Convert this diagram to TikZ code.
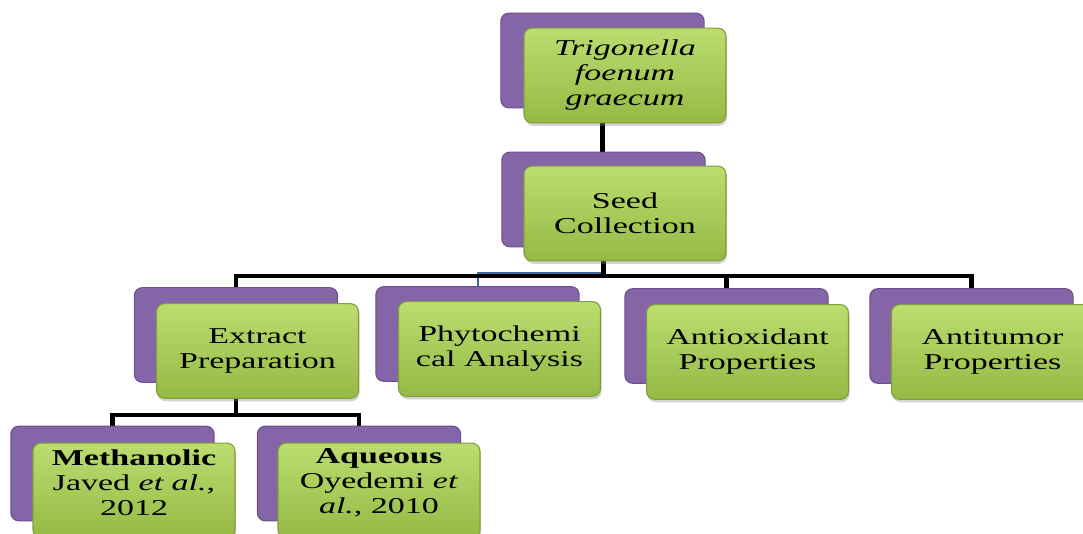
\documentclass[tikz,border=0pt]{standalone}
\usepackage{fontspec}
\setmainfont{Liberation Serif}[FakeStretch=1.5]
\usetikzlibrary{shadows,backgrounds}
\definecolor{pfill}{HTML}{8465A8}
\definecolor{pdraw}{HTML}{6B4F8E}
\definecolor{gtop}{HTML}{BCDC70}
\definecolor{gmid}{HTML}{A4C853}
\definecolor{gbot}{HTML}{94BA44}
\definecolor{gdraw}{HTML}{7F9F3C}
\definecolor{blink}{HTML}{3F6A9E}
\begin{document}
\begin{tikzpicture}[x=0.75pt,y=-0.75pt,
  backbox/.style={draw=pdraw, fill=pfill, rounded corners=6pt, line width=0.8pt,
    minimum width=152.5pt, minimum height=71pt, inner sep=0pt},
  frontbox/.style={draw=gdraw, top color=gtop, middle color=gmid, bottom color=gbot,
    rounded corners=6pt, line width=0.8pt, minimum width=151.5pt, minimum height=71pt,
    inner sep=0pt, align=center, font=\fontsize{17}{18.75}\selectfont,
    drop shadow={shadow xshift=0.8pt, shadow yshift=-2.2pt, opacity=0.35}},
  txt/.style={align=center, font=\fontsize{17}{18.75}\selectfont, inner sep=0pt},
  conn/.style={draw=black, line width=3.6pt},
  thinconn/.style={draw=blink, line width=1.5pt}]
\useasboundingbox (0,0) rectangle (1083,534);
\clip (0,0) rectangle (1083,534);

% level 0
\node[backbox] (pTop) at (602.5,60.5) {};
\node[frontbox] (gTop) at (625,75.5) {\textit{Trigonella}\\\textit{foenum}\\\textit{graecum}};
% level 1
\node[backbox] (pSeed) at (603.5,199.5) {};
\node[frontbox] (gSeed) at (625,213.5) {Seed\\Collection};
% level 2
\node[backbox] (pExt) at (236,335) {};
\node[frontbox] (gExt) at (257.5,351) {Extract\\Preparation};
\node[backbox] (pPhy) at (477.5,334) {};
\node[frontbox] (gPhy) at (499.5,349) {Phytochemi\\cal Analysis};
\node[backbox] (pOx) at (726.5,336) {};
\node[frontbox] (gOx) at (747.5,352) {Antioxidant\\Properties};
\node[backbox] (pTum) at (971.5,336) {};
\node[frontbox] (gTum) at (992.5,352) {Antitumor\\Properties};
% level 3
\node[backbox] (pMeth) at (112.5,473.5) {};
\node[frontbox] (gMeth) at (134,490.5) {};
\node[txt] (tMeth) at (134,483) {\textbf{Methanolic}\\Javed \textit{et al.},\\2012};
\node[backbox] (pAq) at (359,473.5) {};
\node[frontbox] (gAq) at (379,490.5) {};
\node[txt] (tAq) at (379,483) {\textbf{Aqueous}\\Oyedemi \textit{et}\\\textit{al.}, 2010};

\coordinate (bus) at (0,276);
\coordinate (bluebus) at (0,273);
\coordinate (subbus) at (0,415);

\begin{scope}[on background layer]
  \draw[thinconn] (pPhy.center) -- (pPhy.center |- bluebus) -- (pSeed.center |- bluebus);
  \draw[conn] (pTop.center) -- (pTop.center |- pSeed.center);
  \draw[conn] (pSeed.center) -- (pSeed.center |- bus);
  \draw[conn] (pExt.center) -- (pExt.center |- bus) -- (pTum.center |- bus) -- (pTum.center);
  \draw[conn] (pOx.center) -- (pOx.center |- bus);
  \draw[conn] (pExt.center) -- (pExt.center |- subbus);
  \draw[conn] (pMeth.center) -- (pMeth.center |- subbus) -- (pAq.center |- subbus) -- (pAq.center);
\end{scope}
\end{tikzpicture}
\end{document}
